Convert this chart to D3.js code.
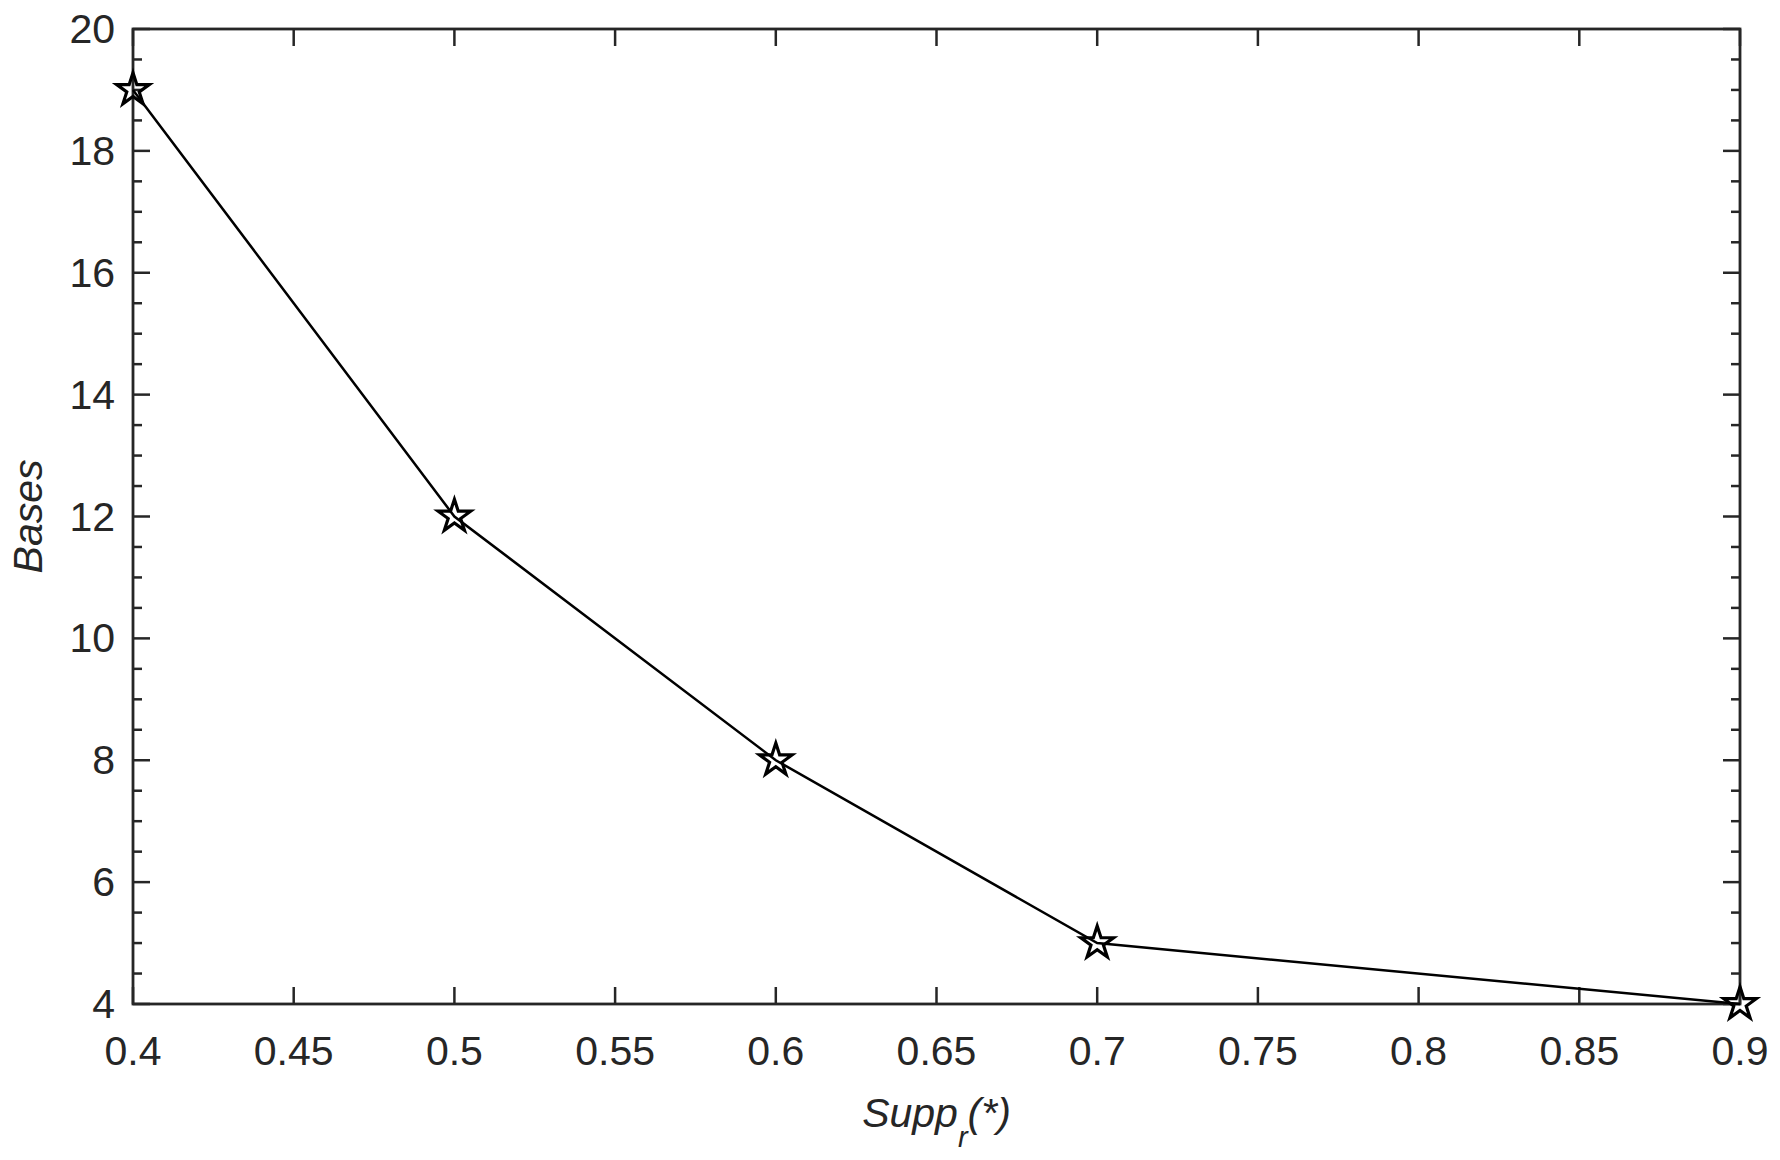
<!DOCTYPE html>
<html>
<head>
<meta charset="utf-8">
<script src="https://cdn.jsdelivr.net/npm/d3@7"></script>
<style>
  body { margin: 0; background: #fff; }
  text { font-family: "Liberation Sans", Arial, sans-serif; fill: #262626; }
</style>
</head>
<body>
<script>
// data
var supp = [0.4, 0.5, 0.6, 0.7, 0.9];
var bases = [19, 12, 8, 5, 4];
var xTicks = [0.4, 0.45, 0.5, 0.55, 0.6, 0.65, 0.7, 0.75, 0.8, 0.85, 0.9];
var yTicks = [4, 6, 8, 10, 12, 14, 16, 18, 20];

var width = 1780;
var height = 1160;
// plot box edges (window.top is read-only, so no bare "top")
var boxL = 133, boxR = 1740, boxT = 29, boxB = 1004;
var axisColor = '#262626';
var fontSize = 41;

var svg = d3.select('body').append('svg')
  .attr('width', width)
  .attr('height', height);

var x = d3.scaleLinear().domain([0.4, 0.9]).range([boxL, boxR]);
var y = d3.scaleLinear().domain([4, 20]).range([boxB, boxT]);

// minor y ticks every 0.5
var yMinor = d3.range(4, 20.001, 0.5).filter(function (v) { return v % 2 !== 0; });

var g = svg.append('g');

// x ticks on bottom and top, pointing in
g.selectAll(null).data(xTicks).enter().append('line')
  .attr('x1', function (d) { return x(d); }).attr('x2', function (d) { return x(d); })
  .attr('y1', boxB).attr('y2', boxB - 17)
  .attr('stroke', axisColor).attr('stroke-width', 2.5);
g.selectAll(null).data(xTicks).enter().append('line')
  .attr('x1', function (d) { return x(d); }).attr('x2', function (d) { return x(d); })
  .attr('y1', boxT).attr('y2', boxT + 17)
  .attr('stroke', axisColor).attr('stroke-width', 2.5);

// y ticks left and right, major and minor
[[boxL, 1], [boxR, -1]].forEach(function (side) {
  g.selectAll(null).data(yTicks).enter().append('line')
    .attr('x1', side[0]).attr('x2', side[0] + side[1] * 17)
    .attr('y1', function (d) { return y(d); }).attr('y2', function (d) { return y(d); })
    .attr('stroke', axisColor).attr('stroke-width', 2.5);
  g.selectAll(null).data(yMinor).enter().append('line')
    .attr('x1', side[0]).attr('x2', side[0] + side[1] * 9)
    .attr('y1', function (d) { return y(d); }).attr('y2', function (d) { return y(d); })
    .attr('stroke', axisColor).attr('stroke-width', 2.5);
});

// box
g.append('rect')
  .attr('x', boxL).attr('y', boxT)
  .attr('width', boxR - boxL).attr('height', boxB - boxT)
  .attr('fill', 'none').attr('stroke', axisColor).attr('stroke-width', 2.8);

// tick labels
g.selectAll(null).data(xTicks).enter().append('text')
  .attr('x', function (d) { return x(d); })
  .attr('y', 1065)
  .attr('text-anchor', 'middle')
  .style('font-size', fontSize + 'px')
  .text(function (d) { return String(d); });

g.selectAll(null).data(yTicks).enter().append('text')
  .attr('x', 115)
  .attr('y', function (d) { return y(d) + 14; })
  .attr('text-anchor', 'end')
  .style('font-size', fontSize + 'px')
  .text(function (d) { return d; });

// axis labels
var xl = svg.append('text')
  .attr('x', (boxL + boxR) / 2)
  .attr('y', 1127)
  .attr('text-anchor', 'middle')
  .style('font-size', fontSize + 'px')
  .style('font-style', 'italic');
xl.append('tspan').text('Supp');
xl.append('tspan').attr('dy', 20).style('font-size', '29px').text('r');
xl.append('tspan').attr('dy', -20).text('(*)');

svg.append('text')
  .attr('transform', 'translate(42,' + ((boxT + boxB) / 2) + ') rotate(-90)')
  .attr('text-anchor', 'middle')
  .style('font-size', fontSize + 'px')
  .style('font-style', 'italic')
  .text('Bases');

// data line
var pts = supp.map(function (s, i) { return [s, bases[i]]; });
svg.append('path')
  .datum(pts)
  .attr('d', d3.line().x(function (d) { return x(d[0]); }).y(function (d) { return y(d[1]); }))
  .attr('fill', 'none')
  .attr('stroke', '#000')
  .attr('stroke-width', 2.5);

// pentagram markers
var star = d3.symbol().type(d3.symbolStar).size(330);
svg.selectAll(null).data(pts).enter().append('path')
  .attr('d', star)
  .attr('transform', function (d) { return 'translate(' + x(d[0]) + ',' + y(d[1]) + ')'; })
  .attr('fill', 'none')
  .attr('stroke', '#000')
  .attr('stroke-width', 3.2);
</script>
</body>
</html>
